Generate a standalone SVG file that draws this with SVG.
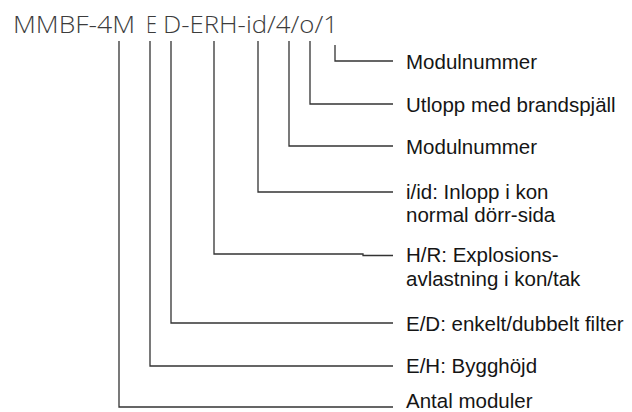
<svg xmlns="http://www.w3.org/2000/svg" width="632" height="412" viewBox="0 0 632 412">
<style>
.t{font-family:"Open Sans","Liberation Sans",sans-serif;font-weight:300;font-size:24px;fill:#3c3c3c}
.l{font-family:"Liberation Sans",Arial,sans-serif;font-size:20.5px;fill:#151515}
.c{fill:none;stroke:#333;stroke-width:1.3}
</style>
<rect width="632" height="412" fill="#fff"/>
<g id="code">
<text class="t" x="13" y="33" textLength="122" lengthAdjust="spacingAndGlyphs">MMBF-4M</text>
<text class="t" x="146" y="33" textLength="11" lengthAdjust="spacingAndGlyphs">E</text>
<text class="t" x="163" y="33" textLength="175" lengthAdjust="spacingAndGlyphs">D-ERH-id/4/o/1</text>
</g>
<g id="connectors">
<path class="c" d="M335 45V61H393"/>
<path class="c" d="M310 41V104H393"/>
<path class="c" d="M289 41V146H393"/>
<path class="c" d="M258 41V192H393"/>
<path class="c" d="M214 41V254H363V255.5H393"/>
<path class="c" d="M171 41V323H393"/>
<path class="c" d="M150 41V366H393"/>
<path class="c" d="M119 41V407H393"/>
</g>
<g id="n1"><text class="l" x="406" y="69">Modulnummer</text></g>
<g id="n2"><text class="l" x="406" y="112">Utlopp med brandspjäll</text></g>
<g id="n3"><text class="l" x="406" y="154">Modulnummer</text></g>
<g id="n4"><text class="l" x="406" y="199">i/id: Inlopp i kon</text><text class="l" x="406" y="222">normal dörr-sida</text></g>
<g id="n5"><text class="l" x="406" y="262">H/R: Explosions-</text><text class="l" x="406" y="286">avlastning i kon/tak</text></g>
<g id="n6"><text class="l" x="406" y="331">E/D: enkelt/dubbelt filter</text></g>
<g id="n7"><text class="l" x="406" y="373">E/H: Bygghöjd</text></g>
<g id="n8"><text class="l" x="406" y="408">Antal moduler</text></g>
</svg>
